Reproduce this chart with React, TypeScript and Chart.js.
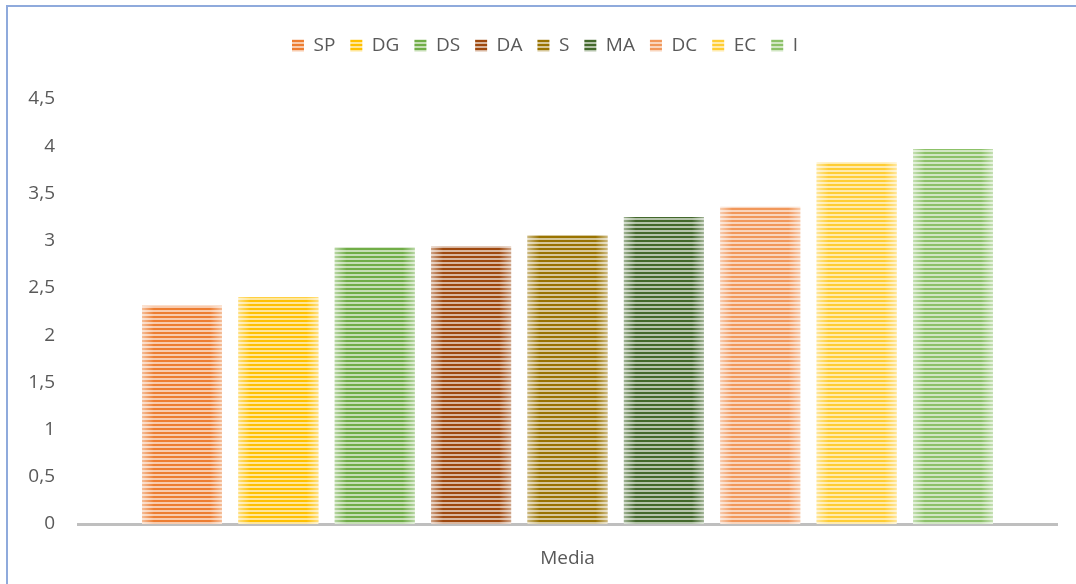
import React, { useEffect, useRef } from "react";
import { Chart, registerables } from "chart.js";

Chart.register(...registerables);

const categories = ["Media"];
const seriesNames = ["SP", "DG", "DS", "DA", "S", "MA", "DC", "EC", "I"];
const seriesValues = [2.31, 2.4, 2.93, 2.94, 3.06, 3.25, 3.36, 3.83, 3.97];
const seriesColors = ["#ED7D31", "#FFC000", "#70AD47", "#9E480E", "#997300", "#43682B", "#F1975A", "#FFCD33", "#8CC168"];
const yMin = 0;
const yMax = 4.5;
const yStep = 0.5;

function mixWhite(hex: string, t: number) {
  const r = parseInt(hex.slice(1, 3), 16);
  const g = parseInt(hex.slice(3, 5), 16);
  const b = parseInt(hex.slice(5, 7), 16);
  const m = (c: number) => Math.round(c + (255 - c) * t);
  return `rgb(${m(r)},${m(g)},${m(b)})`;
}

function stripePattern(hex: string): CanvasPattern | string {
  const c = document.createElement("canvas");
  c.width = 4;
  c.height = 4;
  const ctx = c.getContext("2d");
  if (!ctx) return hex;
  ctx.fillStyle = mixWhite(hex, 0.6);
  ctx.fillRect(0, 0, 4, 4);
  ctx.fillStyle = hex;
  ctx.fillRect(0, 0, 4, 2);
  const p = ctx.createPattern(c, "repeat");
  return p || hex;
}

const edgeShade = {
  id: "edgeShade",
  afterDatasetsDraw(chart: any) {
    const ctx = chart.ctx;
    chart.data.datasets.forEach((_: any, i: number) => {
      const meta = chart.getDatasetMeta(i);
      meta.data.forEach((bar: any) => {
        const { x, y, base, width } = bar.getProps(["x", "y", "base", "width"], true);
        const left = x - width / 2;
        const right = x + width / 2;
        const w = 12;
        let g = ctx.createLinearGradient(left, 0, left + w, 0);
        g.addColorStop(0, "rgba(255,255,255,0.5)");
        g.addColorStop(1, "rgba(255,255,255,0)");
        ctx.fillStyle = g;
        ctx.fillRect(left, y, w, base - y);
        g = ctx.createLinearGradient(right - w, 0, right, 0);
        g.addColorStop(0, "rgba(255,255,255,0)");
        g.addColorStop(1, "rgba(255,255,255,0.5)");
        ctx.fillStyle = g;
        ctx.fillRect(right - w, y, w, base - y);
      });
    });
  },
};

const legendTweak = {
  id: "legendTweak",
  beforeInit(chart: any) {
    const legend = chart.legend;
    if (!legend) return;
    const origFit = legend.fit;
    legend.fit = function () {
      origFit.call(this);
      this.height += 34;
    };
  },
  afterLayout(chart: any) {
    if (chart.legend) chart.legend.left += 33;
  },
};

export default function App() {
  const ref = useRef<HTMLCanvasElement>(null);

  useEffect(() => {
    if (!ref.current) return;
    const font = { family: "'Open Sans', sans-serif", size: 19 };
    const chart = new Chart(ref.current, {
      type: "bar",
      data: {
        labels: categories,
        datasets: seriesNames.map((name, i) => ({
          label: name,
          data: [seriesValues[i]],
          backgroundColor: stripePattern(seriesColors[i]) as any,
          borderWidth: 0,
          categoryPercentage: 0.886,
          barPercentage: 0.83,
        })),
      },
      options: {
        animation: false,
        responsive: false,
        maintainAspectRatio: false,
        layout: { padding: { left: 0, right: 19, top: 21, bottom: 0 } },
        plugins: {
          legend: {
            position: "top",
            labels: {
              color: "#595959",
              font,
              boxWidth: 12,
              boxHeight: 12,
              padding: 15,
            },
          },
          tooltip: { enabled: false },
        },
        scales: {
          x: {
            grid: { display: false, drawTicks: false },
            border: { display: true, color: "#BFBFBF", width: 3 },
            ticks: { color: "#595959", font, padding: 23 },
            afterFit: (scale: any) => {
              scale.height = 60;
            },
          },
          y: {
            min: yMin,
            max: yMax,
            grid: { display: false, drawTicks: false },
            border: { display: false },
            afterFit: (scale: any) => {
              scale.width = 78;
            },
            ticks: {
              stepSize: yStep,
              color: "#595959",
              font,
              padding: 23,
              callback: (v: any) => String(v).replace(".", ","),
            },
          },
        },
      },
      plugins: [legendTweak, edgeShade],
    });
    return () => chart.destroy();
  }, []);

  return (
    <div style={{ position: "absolute", left: 0, top: 0, width: 1076, height: 584, background: "#fff", overflow: "hidden" }}>
      <canvas ref={ref} width={1076} height={584} style={{ position: "absolute", left: 0, top: 0, width: 1076, height: 584 }} />
      <div
        style={{
          position: "absolute",
          left: 6,
          top: 5,
          width: 1070,
          height: 579,
          borderTop: "2px solid #8FAADC",
          borderLeft: "2px solid #8FAADC",
          pointerEvents: "none",
        }}
      />
    </div>
  );
}
